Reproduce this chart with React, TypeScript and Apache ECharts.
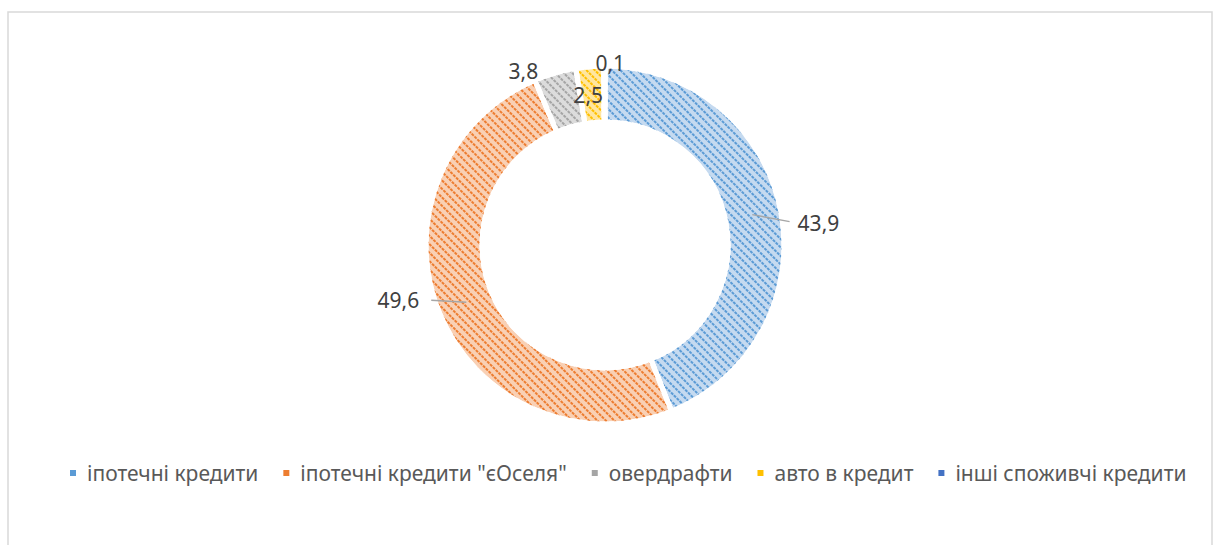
import React, { useEffect, useRef } from "react";
import * as echarts from "echarts";

const categories = [
  "іпотечні кредити",
  "іпотечні кредити \"єОселя\"",
  "овердрафти",
  "авто в кредит",
  "інші споживчі кредити",
];
const values = [43.9, 49.6, 3.8, 2.5, 0.1];
const labels = ["43,9", "49,6", "3,8", "2,5", "0,1"];
const mainColors = ["#5B9BD5", "#ED7D31", "#A5A5A5", "#FFC000", "#4472C4"];
const lightColors = ["#C5DAF0", "#F9D0B4", "#DCDCDC", "#FFE6A0", "#C2D0EC"];

const CX = 605;
const CY = 245;
const R_IN = 123;
const R_OUT = 179;

export default function App() {
  const ref = useRef<HTMLDivElement>(null);
  useEffect(() => {
    if (!ref.current) return;
    const chart = echarts.init(ref.current, undefined, { renderer: "svg" });
    const total = values.reduce((a, b) => a + b, 0);
    const mids: number[] = [];
    let acc = 0;
    values.forEach((v) => {
      mids.push(((acc + v / 2) / total) * Math.PI * 2);
      acc += v;
    });
    const pt = (i: number, r: number) => [
      CX + Math.sin(mids[i]) * r,
      CY - Math.cos(mids[i]) * r,
    ];
    const decal = (i: number) => ({
      symbol: "rect",
      symbolSize: 1,
      color: mainColors[i],
      dashArrayX: [3, 1],
      dashArrayY: [2, 4],
      rotation: Math.PI / 4,
    });
    chart.setOption({
      animation: false,
      backgroundColor: "#ffffff",
      graphic: [
        {
          type: "rect",
          shape: { x: 8, y: 12, width: 1204, height: 560 },
          style: { fill: "none", stroke: "#D9D9D9", lineWidth: 1.5 },
          silent: true,
        },
      ],
      legend: {
        top: 455,
        left: 63,
        icon: "rect",
        itemWidth: 8,
        itemHeight: 8,
        itemGap: 23,
        textStyle: {
          fontFamily: "Noto Sans",
          fontSize: 21,
          lineHeight: 26,
          color: "#595959",
          padding: [0, 0, 0, 5],
        },
        data: categories.map((c, i) => ({
          name: c,
          itemStyle: { color: mainColors[i], decal: "none" },
        })),
      },
      series: [
        {
          type: "pie",
          name: "ring",
          center: [CX, CY],
          radius: [R_IN, R_OUT],
          startAngle: 90,
          clockwise: true,
          silent: true,
          label: { show: false },
          labelLine: { show: false },
          itemStyle: { borderColor: "#ffffff", borderWidth: 5 },
          emphasis: { disabled: true },
          data: values.map((v, i) => ({
            name: categories[i],
            value: v,
            itemStyle: { color: lightColors[i], decal: decal(i) },
          })),
        },
        {
          type: "pie",
          name: "labels",
          z: 5,
          center: [CX, CY],
          radius: [R_IN, R_OUT],
          startAngle: 90,
          clockwise: true,
          silent: true,
          legendHoverLink: false,
          avoidLabelOverlap: false,
          itemStyle: { color: "rgba(0,0,0,0)", borderWidth: 0 },
          label: {
            show: true,
            position: "outside",
            fontFamily: "Noto Sans",
            fontSize: 21,
            color: "#404040",
            formatter: (p: any) => labels[p.dataIndex],
          },
          labelLine: {
            show: true,
            lineStyle: { color: "#A6A6A6", width: 1.5 },
          },
          emphasis: { disabled: true },
          labelLayout: (params: any) => {
            const i = params.dataIndex;
            if (i === 0) {
              const a = pt(0, 150);
              const b = pt(0, 188);
              const e = [b[0], a[1] + 5];
              return {
                x: b[0] + 8,
                y: a[1] + 6,
                align: "left",
                verticalAlign: "middle",
                labelLinePoints: [[a[0], a[1] - 2], e, e],
              };
            }
            if (i === 1) {
              const a = pt(1, 150);
              const b = pt(1, 188);
              const e = [b[0], a[1] - 2];
              return {
                x: b[0] - 12,
                y: a[1] - 2,
                align: "right",
                verticalAlign: "middle",
                labelLinePoints: [a, e, e],
              };
            }
            if (i === 2) {
              const b = pt(2, 182);
              return { x: b[0] - 16, y: b[1] + 1, align: "right", verticalAlign: "middle" };
            }
            if (i === 3) {
              const b = pt(3, 151);
              return { x: b[0] - 4, y: b[1], align: "center", verticalAlign: "middle" };
            }
            const b = pt(4, 182);
            return { x: b[0] - 9, y: b[1], align: "left", verticalAlign: "middle" };
          },
          data: values.map((v, i) => ({
            name: "lbl" + i,
            value: v,
            labelLine: { show: i < 2 },
          })),
        },
      ],
    });
    return () => chart.dispose();
  }, []);
  return (
    <div
      ref={ref}
      style={{ position: "fixed", left: 0, top: 0, width: 1213, height: 545 }}
    />
  );
}
